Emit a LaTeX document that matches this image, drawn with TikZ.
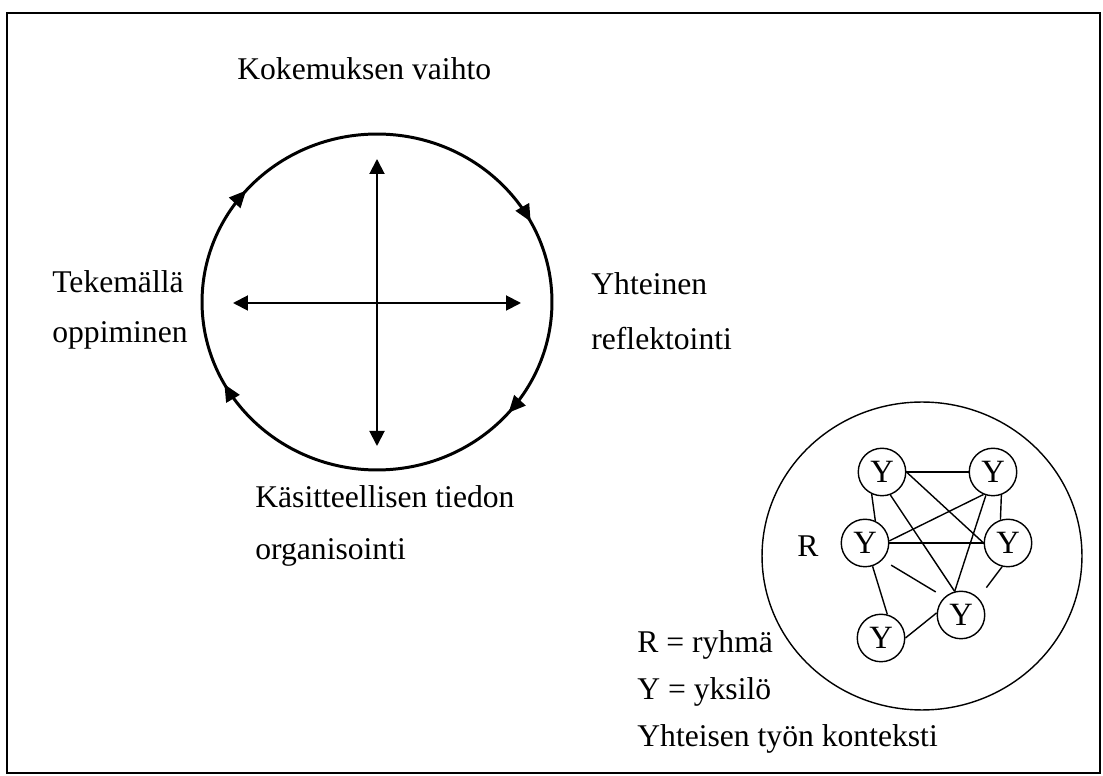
\documentclass[tikz,border=0pt]{standalone}
\usepackage{fontspec}
\setmainfont{Liberation Serif}
\usetikzlibrary{arrows.meta,decorations.markings}

\begin{document}
\begin{tikzpicture}[x=0.02cm, y=-0.02cm,
  lbl/.style={anchor=base west, inner sep=0pt, font=\fontsize{18}{22}\selectfont},
  yk/.style={circle, draw=black, line width=0.8pt, fill=white, inner sep=0pt, minimum size=0.95cm, font=\fontsize{18.5}{22}\selectfont},
  ln/.style={line width=0.8pt},
  ax/.style={line width=1.1pt, {Triangle[length=0.3cm,width=0.3cm]}-{Triangle[length=0.3cm,width=0.3cm]}},
  cyc/.style={line width=1.7pt, postaction={decorate}, decoration={markings,
    mark=at position 0.078 with {\arrowreversed{Triangle[length=0.34cm,width=0.3cm]}},
    mark=at position 0.386 with {\arrowreversed{Triangle[length=0.34cm,width=0.3cm]}},
    mark=at position 0.580 with {\arrowreversed{Triangle[length=0.34cm,width=0.3cm]}},
    mark=at position 0.887 with {\arrowreversed{Triangle[length=0.34cm,width=0.3cm]}}}}]
\useasboundingbox (0,0) rectangle (1103,776);
\draw[line width=1.1pt] (7,13) rectangle (1100,773);

\draw[cyc] (377,302) ellipse [x radius=3.5cm, y radius=3.36cm];
\coordinate (top) at (377,159);
\coordinate (bot) at (377,446);
\coordinate (lft) at (233,303);
\coordinate (rgt) at (521,303);
\draw[ax] (top) -- (bot);
\draw[ax] (lft) -- (rgt);

\node[lbl] (kok) at (237,80) {Kokemuksen vaihto};
\node[lbl] (tek1) at (52,293) {Tekemällä};
\node[lbl] (tek2) at (52,343) {oppiminen};
\node[lbl] (yht1) at (591,295) {Yhteinen};
\node[lbl] (yht2) at (591,350) {reflektointi};
\node[lbl] (kas1) at (255,508) {Käsitteellisen tiedon};
\node[lbl] (kas2) at (255,560) {organisointi};

\draw[ln] (922,556) ellipse [x radius=3.2cm, y radius=3.08cm];
\node[lbl] (r) at (797,557) {R};
\node[yk] (y1) at (882,472) {Y};
\node[yk] (y2) at (993,472) {Y};
\node[yk] (y3) at (865,543) {Y};
\node[yk] (y4) at (1008,543) {Y};
\node[yk] (y5) at (961,615) {Y};
\node[yk] (y6) at (881,638) {Y};
\draw[ln] (y1) -- (y2);
\draw[ln] (y1.-115) -- (y3.65);
\draw[ln] (y2.-70) -- (y4.108);
\draw[ln] (y1.east) -- (y4.west);
\draw[ln] (y1.-70) -- (y5.105);
\draw[ln] (y2.-113) -- (y3.5);
\draw[ln] (y2.-107) -- (y5.105);
\draw[ln] (y3.east) -- (y4.west);
\draw[ln] (y3.-72) -- (y6.75);
\draw[ln] (y6.east) -- (y5.175);
\draw[ln, shorten <=0.2cm, shorten >=0.2cm] (y3.-44) -- (y5.133);
\draw[ln, shorten >=0.26cm] (y4.-104) -- (y5.44);

\node[lbl] (leg1) at (637,653) {R = ryhmä};
\node[lbl] (leg2) at (637,700) {Y = yksilö};
\node[lbl] (leg3) at (637,747) {Yhteisen työn konteksti};
\end{tikzpicture}
\end{document}
